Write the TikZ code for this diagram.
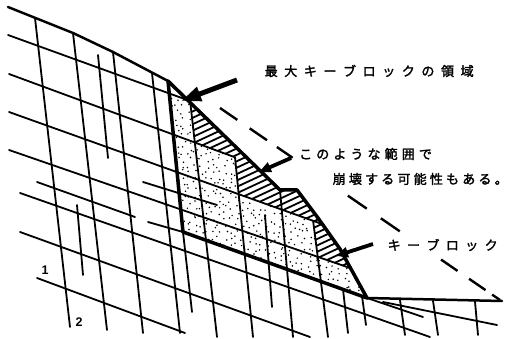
\documentclass[tikz,border=0pt]{standalone}
\usepackage{fontspec}
\newfontfamily\cjk[FakeBold=2]{Noto Sans CJK JP}
\newfontfamily\numfont{Liberation Sans}
\usetikzlibrary{arrows.meta}
\newlength\lsp
\newcommand\gp{\hspace{\lsp}}
\begin{document}
\begin{tikzpicture}[x=1pt,y=-1pt,
  joint/.style={line width=1.8pt,line cap=round},
  surface/.style={line width=2.5pt,line cap=round,line join=round},
  keyline/.style={line width=3.5pt,line cap=round,line join=round},
  hatchln/.style={line width=1.8pt},
  dashln/.style={line width=2.4pt,dash pattern=on 21pt off 15pt on 21pt off 12pt on 19pt off 67pt on 23pt off 17pt on 23pt off 50pt on 20pt off 14pt on 20pt off 8pt on 9.5pt off 10pt},
  lbl/.style={inner sep=0pt,anchor=west,font=\cjk\fontsize{13}{13}\selectfont},
  num/.style={inner sep=0pt,font=\numfont\bfseries\fontsize{12.5}{12.5}\selectfont},
  bigarr/.style={line width=5pt,-{Triangle[length=20pt,width=14pt]}},
  smallarr/.style={line width=3.8pt,-{Triangle[length=12pt,width=10pt]}}]
\useasboundingbox (0,0) rectangle (512,339);

% stipple (key block)
\begin{scope}
\clip (169.1,93.3) -- (190.1,101) -- (194.9,142.5) -- (235,157.3) -- (238.7,194.2)
  -- (313.1,220.7) -- (317.7,256.7) -- (350,268) -- (367,298) -- (183,232) -- cycle;
\pgfmathsetseed{7}
\foreach \i in {0,...,34}
  \foreach \j in {0,...,36}
    \fill ({165+6*\i+2.6*rand},{88+6*\j+2.6*rand}) circle (0.85);
\end{scope}

% hatched zone
\begin{scope}
\clip (190.1,101) -- (280,190) -- (297,190) -- (318,218) -- (340,249) -- (350,268)
  -- (317.7,256.7) -- (313.1,220.7) -- (238.7,194.2) -- (235,157.3) -- (194.9,142.5) -- cycle;
\foreach \c in {182,188.4,...,446}
  \draw[hatchln] (170,{\c-0.466*170}) -- (370,{\c-0.466*370});
\end{scope}

% joints, dipping family
\draw[joint] (8,35) -- (190.1,101);
\draw[joint] (9,74) -- (235,157.3);
\draw[joint] (9,112) -- (322,224);
\draw[joint] (9,150) -- (350,268);
\draw[joint] (37,182) -- (135,217);
\draw[joint] (143,182) -- (217,205);
\draw[joint] (148,222) -- (183,232);
\draw[joint] (20,193) -- (430,337);
\draw[joint] (20,232) -- (310,337);
\draw[joint] (37,278) -- (185,333);
\draw[joint] (367,298) -- (423,317);
\draw[joint] (383,302) -- (497,325);

% joints, steep family
\draw[joint] (35,18) -- (70,327);
\draw[joint] (73,33) -- (107,330);
\draw[joint] (98,55) -- (108,158);
\draw[joint] (113,52) -- (143,333);
\draw[joint] (152,73) -- (180,333);
\draw[joint] (77,205) -- (83,275);
\draw[joint] (183,232) -- (192,312);
\draw[joint] (190.1,101) -- (217,337);
\draw[joint] (235,157.3) -- (253,337);
\draw[joint] (265,215) -- (272,307);
\draw[joint] (280,190) -- (293,337);
\draw[joint] (313.1,220.7) -- (328,337);
\draw[joint] (343,289.4) -- (348,333);
\draw[joint] (362,296) -- (366,325);
\draw[joint] (400,300) -- (405,335);
\draw[joint] (433,300.7) -- (438,335);
\draw[joint] (475,301.5) -- (478,335);

% ground surface
\draw[surface] (8,7) -- (73,33) -- (113,52) -- (168,81);
\draw[surface] (367,298) -- (502,301);
% slope face
\draw[keyline] (168,81) -- (280,190) -- (297,190) -- (318,218) -- (340,249) -- (367,298);
% key block base
\draw[keyline] (168,81) -- (183,232) -- (367,298);

% maximum key block line
\coordinate (dA) at (220,108);
\coordinate (dB) at (500,300);
\draw[dashln] (dA) -- (dB);

% labels
\node[lbl] (t1) at (264.5,71) {\setlength\lsp{6.6pt}最\gp 大\gp キ\gp ー\gp ブ\gp ロ\gp ッ\gp ク\gp の\gp 領\gp 域};
\node[lbl] (t2) at (299,154) {\setlength\lsp{4.1pt}こ\gp の\gp よ\gp う\gp な\gp 範\gp 囲\gp で};
\node[lbl] (t3) at (332.5,179) {\setlength\lsp{3.2pt}崩\gp 壊\gp す\gp る\gp 可\gp 能\gp 性\gp も\gp あ\gp る\gp 。};
\node[lbl] (t4) at (387.5,245) {\setlength\lsp{6.4pt}キ\gp ー\gp ブ\gp ロ\gp ッ\gp ク};
\node[num] (n1) at (45,270) {1};
\node[num] (n2) at (79,322) {2};

% arrows
\coordinate (a1s) at (237,80);
\coordinate (a1e) at (181,101);
\coordinate (a2s) at (291,158);
\coordinate (a2e) at (259,172);
\coordinate (a3s) at (373,244);
\coordinate (a3e) at (336,256);
\draw[bigarr] (a1s) -- (a1e);
\draw[smallarr] (a2s) -- (a2e);
\draw[smallarr] (a3s) -- (a3e);
\end{tikzpicture}
\end{document}
